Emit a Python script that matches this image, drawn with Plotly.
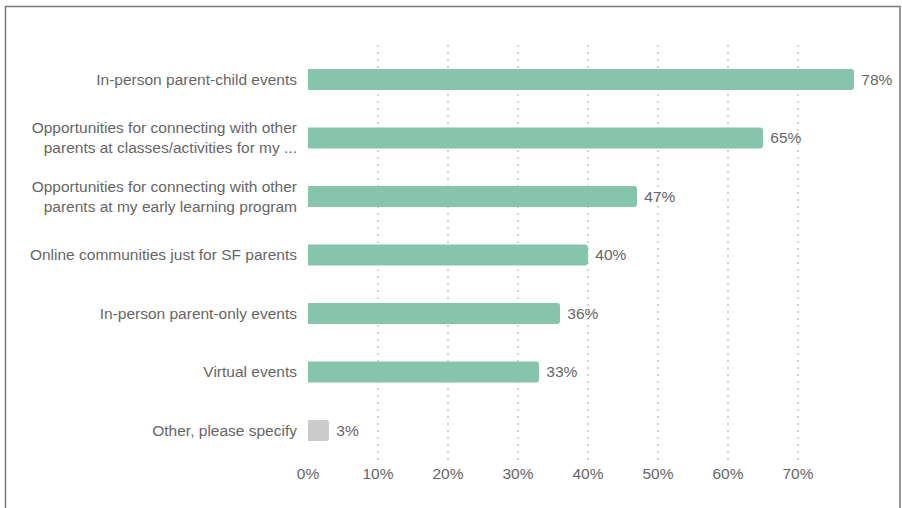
import plotly.graph_objects as go

categories = [
    "In-person parent-child events",
    "Opportunities for connecting with other<br>parents at classes/activities for my ...",
    "Opportunities for connecting with other<br>parents at my early learning program",
    "Online communities just for SF parents",
    "In-person parent-only events",
    "Virtual events",
    "Other, please specify",
]
values = [78, 65, 47, 40, 36, 33, 3]
bar_colors = ["#86C5AB"] * 6 + ["#CCCCCC"]
tick_vals = [0, 10, 20, 30, 40, 50, 60, 70]
tick_text = [f"{v}%" for v in tick_vals]

W, H = 902, 508
ml, mr, mt, mb = 308, 41, 45, 46
pw = W - ml - mr
ph = H - mt - mb
FONT = "Liberation Sans, Arial, Helvetica, sans-serif"

fig = go.Figure(
    go.Bar(
        x=values,
        y=list(range(len(categories))),
        orientation="h",
        marker=dict(color=bar_colors, cornerradius=3, line=dict(width=0)),
        text=[f" {v}%" for v in values],
        textposition="outside",
        textfont=dict(family=FONT, size=15.5, color="#666666"),
        cliponaxis=False,
        hoverinfo="skip",
    )
)

fig.update_layout(
    width=W,
    height=H,
    margin=dict(l=ml, r=mr, t=mt, b=mb, autoexpand=False),
    paper_bgcolor="white",
    plot_bgcolor="white",
    bargap=0.64,
    showlegend=False,
    font=dict(family=FONT, size=15.5, color="#666666"),
    xaxis=dict(
        range=[0, 79],
        tickvals=tick_vals,
        ticktext=tick_text,
        showgrid=True,
        gridcolor="#D3D3D3",
        griddash="2px,5px",
        gridwidth=1.5,
        zeroline=False,
        showline=False,
        ticks="",
        ticklabelstandoff=0,
        fixedrange=True,
    ),
    yaxis=dict(
        range=[6.54, -0.59],
        tickvals=list(range(len(categories))),
        ticktext=categories,
        showgrid=False,
        zeroline=False,
        showline=False,
        ticks="",
        ticklabelstandoff=10,
        fixedrange=True,
    ),
    shapes=[
        dict(
            type="rect",
            xref="paper",
            yref="paper",
            x0=(5.5 - ml) / pw,
            x1=(900 - ml) / pw,
            y0=(H - mb - 512) / ph,
            y1=(H - mb - 6.5) / ph,
            line=dict(color="#777777", width=1.5),
            fillcolor="rgba(0,0,0,0)",
            layer="above",
        )
    ],
)

fig.write_html(
    "out.html",
    config={"displayModeBar": False},
    post_script="document.body.style.margin='0';document.body.style.padding='0';",
)
